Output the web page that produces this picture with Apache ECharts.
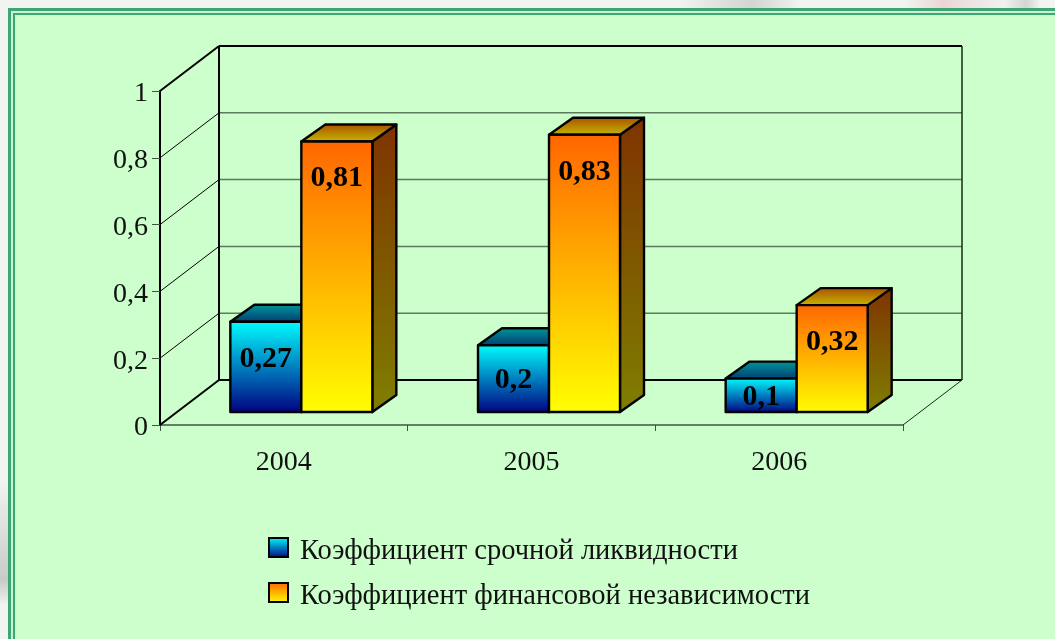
<!DOCTYPE html>
<html><head><meta charset="utf-8">
<style>html,body{margin:0;padding:0;background:#f1f4f1}#c{width:1055px;height:639px}</style>
<script src="https://cdn.jsdelivr.net/npm/echarts@6/dist/echarts.min.js"></script>
</head><body><div id="c"></div>
<script>
const categories = ['2004', '2005', '2006'];
const quickRatio = [0.27, 0.2, 0.1];
const independence = [0.81, 0.83, 0.32];
const yTicks = [0, 0.2, 0.4, 0.6, 0.8, 1];
const seriesNames = ['Коэффициент срочной ликвидности', 'Коэффициент финансовой независимости'];

const FONT = '"Liberation Serif","Times New Roman",serif';
const grad = (a, b) => new echarts.graphic.LinearGradient(0, 0, 0, 1, [{offset: 0, color: a}, {offset: 1, color: b}]);
const hgrad = (stops) => new echarts.graphic.LinearGradient(0, 0, 1, 0, stops);
const WALL_DX = 59, WALL_DY = 45, BAR_DX = 17.5, BAR_DY = 13, DEPTH_X = 24, DEPTH_Y = 17, BAR_W = 71;

const chart = echarts.init(document.getElementById('c'), null, {renderer: 'canvas'});

function wall(params, api) {
  const v = api.value(0);
  const cs = params.coordSys;
  const y = api.coord([0, v])[1];
  const L = cs.x, R = cs.x + cs.width;
  const yb = y - WALL_DY;
  const edge = v === 0 || v === 1;
  const children = [
    {type: 'line', shape: {x1: L, y1: y, x2: L + WALL_DX, y2: yb},
      style: {stroke: '#000', lineWidth: edge ? 2 : 1}},
    {type: 'line', shape: {x1: L + WALL_DX, y1: yb, x2: R + WALL_DX, y2: yb},
      style: {stroke: edge ? '#000' : '#5d7a5e', lineWidth: edge ? 2 : 1.5}}
  ];
  if (v === 0) {
    children.push({type: 'line', shape: {x1: R, y1: y, x2: R + WALL_DX, y2: yb}, style: {stroke: '#1a2a1a', lineWidth: 1}});
  }
  if (v === 1) {
    const y0 = api.coord([0, 0])[1] - WALL_DY;
    children.push({type: 'line', shape: {x1: L + WALL_DX, y1: yb, x2: L + WALL_DX, y2: y0}, style: {stroke: '#000', lineWidth: 2}});
    children.push({type: 'line', shape: {x1: R + WALL_DX, y1: yb, x2: R + WALL_DX, y2: y0}, style: {stroke: '#1a2a1a', lineWidth: 1.5}});
  }
  return {type: 'group', children};
}

function bar3d(side, front, top, right) {
  return function (params, api) {
    const cat = api.value(0), v = api.value(1);
    const base = api.coord([cat, 0]), head = api.coord([cat, v]);
    const cx = base[0] + BAR_DX;
    const x0 = side < 0 ? cx - BAR_W : cx;
    const x1 = x0 + BAR_W;
    const yb = base[1] - BAR_DY, yt = head[1] - BAR_DY;
    const st = (fill) => ({fill, stroke: '#000', lineWidth: 2.4, lineJoin: 'round'});
    const poly = (points, fill) => ({type: 'polygon', shape: {points}, style: st(fill)});
    const labelY = yt + Math.min(35, (yb - yt) / 2) + 2;
    return {type: 'group', children: [
      poly([[x1, yt], [x1 + DEPTH_X, yt - DEPTH_Y], [x1 + DEPTH_X, yb - DEPTH_Y], [x1, yb]], right),
      poly([[x0, yt], [x0 + DEPTH_X, yt - DEPTH_Y], [x1 + DEPTH_X, yt - DEPTH_Y], [x1, yt]], top),
      poly([[x0, yt], [x1, yt], [x1, yb], [x0, yb]], front),
      {type: 'text', x: (x0 + x1) / 2, y: labelY, style: {
        text: String(v).replace('.', ','), fill: '#000', align: 'center', verticalAlign: 'middle',
        font: 'bold 30px ' + FONT}}
    ]};
  };
}

const cyanFront = grad('#00FFFF', '#000080');
const orangeFront = grad('#FF6600', '#FFFF00');

chart.setOption({
  animation: false,
  backgroundColor: 'transparent',
  grid: {left: 160, top: 91, width: 743, height: 334, containLabel: false},
  xAxis: {
    type: 'category', data: categories,
    axisLine: {lineStyle: {color: '#3f5540', width: 1.5}},
    axisTick: {show: true, length: 6, lineStyle: {color: '#3f5540', width: 1}},
    axisLabel: {fontFamily: FONT, fontSize: 28, color: '#111', margin: 24}
  },
  yAxis: {
    type: 'value', min: 0, max: 1, interval: 0.2,
    axisLine: {show: true, lineStyle: {color: '#000', width: 2}},
    axisTick: {show: true, length: 8, lineStyle: {color: '#3f5540', width: 1}},
    splitLine: {show: false},
    axisLabel: {fontFamily: FONT, fontSize: 28, color: '#111', margin: 12,
      verticalAlign: 'top', lineHeight: 6,
      formatter: v => String(v).replace('.', ',')}
  },
  legend: {
    orient: 'vertical', left: 268, top: 529, padding: 0, itemWidth: 19, itemHeight: 19, itemGap: 8,
    icon: 'rect', selectedMode: false,
    formatter: name => '{a|' + name + '}',
    textStyle: {rich: {a: {fontFamily: FONT, fontSize: 28.5, color: '#111', lineHeight: 33, padding: [8, 0, 0, 7]}}},
    data: [
      {name: seriesNames[0], itemStyle: {color: cyanFront, borderColor: '#000', borderWidth: 2}},
      {name: seriesNames[1], itemStyle: {color: orangeFront, borderColor: '#000', borderWidth: 2}}
    ]
  },
  graphic: {elements: [
    {type: 'rect', z: -10, silent: true, shape: {x: 0, y: 0, width: 1055, height: 639}, style: {fill: '#f1f4f1'}},
    {type: 'rect', z: -9, silent: true, shape: {x: 905, y: 0, width: 110, height: 8},
      style: {fill: hgrad([{offset: 0, color: 'rgba(235,215,215,0)'}, {offset: 0.35, color: '#ecd4d4'}, {offset: 1, color: 'rgba(230,225,225,0)'}])}},
    {type: 'rect', z: -9, silent: true, shape: {x: 680, y: 0, width: 120, height: 8},
      style: {fill: hgrad([{offset: 0, color: 'rgba(205,208,205,0)'}, {offset: 0.6, color: '#d2d5d2'}, {offset: 1, color: 'rgba(205,208,205,0)'}])}},
    {type: 'rect', z: -9, silent: true, shape: {x: 1005, y: 0, width: 35, height: 8},
      style: {fill: hgrad([{offset: 0, color: 'rgba(205,208,205,0)'}, {offset: 0.6, color: '#d2d5d2'}, {offset: 1, color: 'rgba(205,208,205,0)'}])}},
    {type: 'rect', z: -9, silent: true, shape: {x: 0, y: 480, width: 8, height: 125},
      style: {fill: new echarts.graphic.LinearGradient(0, 0, 0, 1, [
        {offset: 0, color: 'rgba(200,200,200,0)'}, {offset: 0.8, color: '#c9cbc9'}, {offset: 1, color: 'rgba(200,200,200,0)'}])}},
    {type: 'rect', z: -8, silent: true, shape: {x: 8, y: 8, width: 1060, height: 640}, style: {fill: '#3ea574'}},
    {type: 'rect', z: -7, silent: true, shape: {x: 11, y: 11, width: 1060, height: 640}, style: {fill: '#c8f5cc'}},
    {type: 'rect', z: -6, silent: true, shape: {x: 13, y: 13, width: 1060, height: 640}, style: {fill: '#3ea574'}},
    {type: 'rect', z: -5, silent: true, shape: {x: 15, y: 15, width: 1060, height: 640}, style: {fill: '#CCFFCC'}}
  ]},
  series: [
    {type: 'custom', name: 'walls', silent: true, z: 1, clip: false, renderItem: wall,
      data: yTicks.map(v => [v]), encode: {y: 0}},
    {type: 'custom', name: seriesNames[0], z: 3, clip: false, itemStyle: {color: cyanFront},
      renderItem: bar3d(-1, cyanFront, grad('#00999a', '#003a70'), grad('#007f7f', '#000040')),
      data: quickRatio.map((v, i) => [i, v]), encode: {x: 0, y: 1}},
    {type: 'custom', name: seriesNames[1], z: 4, clip: false, itemStyle: {color: orangeFront},
      renderItem: bar3d(1, orangeFront, grad('#a85000', '#c8b800'), grad('#7f3300', '#7f7f00')),
      data: independence.map((v, i) => [i, v]), encode: {x: 0, y: 1}}
  ]
});
</script></body></html>
